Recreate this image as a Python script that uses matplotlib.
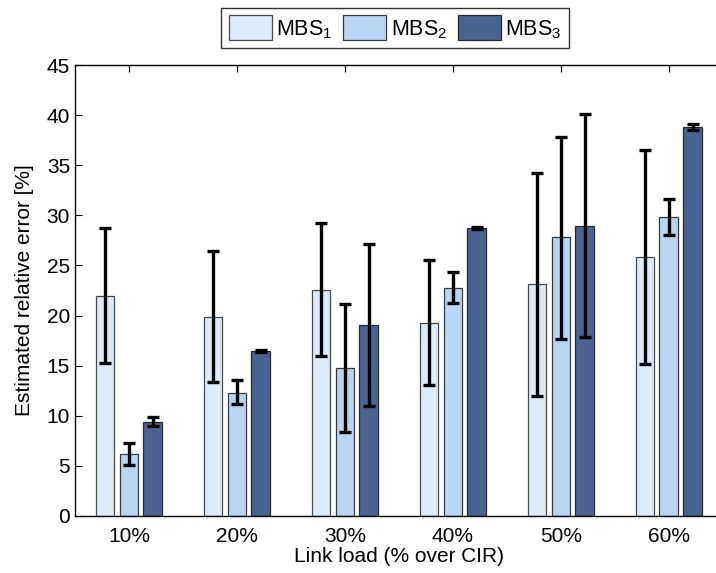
import numpy as np
import matplotlib
matplotlib.use('Agg')
import matplotlib.pyplot as plt

plt.rcParams['font.family'] = ['Liberation Sans', 'DejaVu Sans']
plt.rcParams['mathtext.default'] = 'regular'

# data
loads = ['10%', '20%', '30%', '40%', '50%', '60%']
series = ['MBS$_1$', 'MBS$_2$', 'MBS$_3$']

mbs1 = [22.0, 19.9, 22.6, 19.3, 23.1, 25.8]
mbs2 = [6.2, 12.3, 14.8, 22.8, 27.8, 29.8]
mbs3 = [9.4, 16.5, 19.1, 28.7, 28.9, 38.8]

mbs1_lo = [15.3, 13.4, 16.0, 13.1, 12.0, 15.2]
mbs1_hi = [28.7, 26.4, 29.2, 25.5, 34.2, 36.5]
mbs2_lo = [5.1, 11.2, 8.4, 21.3, 17.7, 28.0]
mbs2_hi = [7.3, 13.6, 21.2, 24.3, 37.8, 31.6]
mbs3_lo = [9.0, 16.4, 11.0, 28.6, 17.9, 38.5]
mbs3_hi = [9.9, 16.6, 27.1, 28.8, 40.1, 39.1]

colors = ['#ddeaf9', '#b9d5f1', '#4b6392']
edges = ['#4a4a4a', '#3a3a3a', '#2a2a2a']

fig = plt.figure(figsize=(7.16, 5.73), dpi=100)
ax = fig.add_axes([0.1047, 0.0995, 0.905, 0.787])

x = np.arange(1, len(loads) + 1)
offsets = [-0.222, 0.0, 0.222]
width = 0.175

vals = [mbs1, mbs2, mbs3]
lows = [mbs1_lo, mbs2_lo, mbs3_lo]
highs = [mbs1_hi, mbs2_hi, mbs3_hi]

handles = []
for i in range(3):
    v = np.array(vals[i])
    lo = v - np.array(lows[i])
    hi = np.array(highs[i]) - v
    b = ax.bar(x + offsets[i], v, width, color=colors[i], edgecolor=edges[i],
               linewidth=0.9, label=series[i], zorder=2)
    ax.errorbar(x + offsets[i], v, yerr=[lo, hi], fmt='none', ecolor='black',
                elinewidth=2.4, capsize=4, capthick=2.4, zorder=3)
    handles.append(b)

ax.set_xlim(0.5, 6.5)
ax.set_ylim(0, 45)
ax.set_yticks(np.arange(0, 46, 5))
ax.set_xticks(x)
ax.set_xticklabels(loads)
ax.tick_params(direction='in', labelsize=15, top=True, right=True, length=5, width=0.8)
ax.tick_params(axis='x', pad=8)
for s in ax.spines.values():
    s.set_linewidth(1.0)

ax.set_xlabel('Link load (% over CIR)', fontsize=15, labelpad=1)
ax.set_ylabel('Estimated relative error [%]', fontsize=15, labelpad=9)

leg = fig.legend(handles=handles, labels=series, loc='center',
                 bbox_to_anchor=(0.552, 0.951), ncol=3, fontsize=15.5,
                 frameon=True, fancybox=False, edgecolor='black',
                 handlelength=2.0, handleheight=1.4, handletextpad=0.2,
                 columnspacing=0.5, borderpad=0.35, borderaxespad=0)
leg.get_frame().set_linewidth(1.0)

fig.savefig('out.png', dpi=100)
